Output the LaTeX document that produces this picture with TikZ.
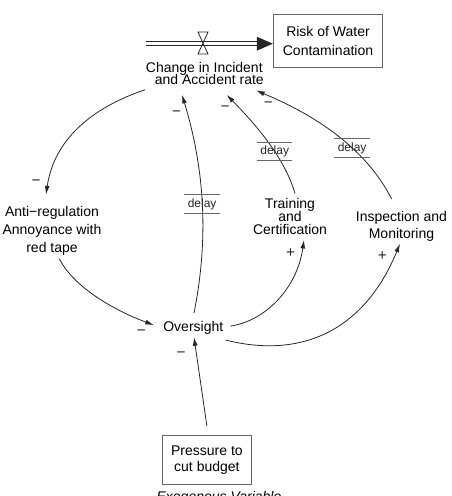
\documentclass[tikz,border=0pt]{standalone}
\usepackage{fontspec}
\setmainfont{Liberation Sans}
\usetikzlibrary{arrows.meta,calc}
\lineskiplimit=-5pt

\begin{document}
\begin{tikzpicture}[x=0.75pt,y=-0.75pt,>={Latex[length=6.5pt,width=3.6pt]},line width=0.6pt,
  txt/.style={inner sep=0,align=center,font=\fontsize{10.5}{#1}\selectfont},
  link/.style={->,black!85},
  sign/.style={anchor=base,inner sep=0,font=\fontsize{11.5}{12}\selectfont},
  delaybox/.style={minimum width=26pt,minimum height=13.3pt,inner sep=0,font=\fontsize{9}{10}\selectfont},
  pipe/.style={double,double distance=2.4pt,line width=0.6pt,black!85}]
  \useasboundingbox (0,0) rectangle (451,496);

  % Variables
  \node[txt=9.2] (change) at (204.3,73.8) {Change in Incident\\\hspace*{7.5pt}and Accident rate};
  \node[txt=13.7,draw=black!60,line width=0.8pt,minimum width=82pt,minimum height=39.2pt] (risk) at (328,41) {Risk of Water\\Contamination};
  \node[txt=13.5] (anti) at (52,231) {Anti−regulation\\Annoyance with\\red tape};
  \node[txt=9.75] (training) at (290,216) {Training\\and\\Certification};
  \node[txt=12.2] (inspection) at (401.5,226.3) {Inspection and\\Monitoring};
  \node[txt=12,anchor=base] (oversight) at (193.3,331.7) {Oversight};
  \node[txt=11.8,draw=black!60,line width=0.8pt,minimum width=66.2pt,minimum height=36.5pt] (pressure) at (206.9,460) {Pressure to\\cut budget};
  \node[txt=12,anchor=base,font=\fontsize{10.5}{12}\selectfont\itshape] (exo) at (219,501.7) {Exogenous Variable};

  % Flow into the stock
  \coordinate (src) at (146,43.7);
  \coordinate (valve) at (203,43.7);
  \draw[pipe] (src) -- ($(risk.west)+(-15,2.7)$);
  \fill[black!85] ($(risk.west)+(0,2.7)$) -- ++(-16,-7) -- ++(0,14) -- cycle;
  \draw[black!85,shift={(valve)}] (-5,-11.7) -- (5,-11.7) -- (-5,10.3) -- (5,10.3) -- cycle;

  % Causal links
  \draw[link] ($(change.south)+(-59.3,4.3)$) .. controls (91,108) and (54,140) .. ($(anti.north)+(-6,-11.5)$)
    node[sign,pos=1,shift={(-10,-8.7)}] {−};
  \draw[link] ($(anti.south)+(7.3,2.7)$) .. controls (75,290) and (121,313) .. ($(oversight.west)+(-9,-3)$)
    node[sign,pos=1,shift={(-12.6,10.3)}] {−};
  \draw[link] ($(oversight.north)+(0.7,-8.2)$) .. controls (210,233) and (203,164) .. ($(change.south)+(-22.3,9.3)$)
    node[delaybox,pos=.48] (d1) {delay}
    node[sign,pos=1,shift={(-5.3,21.3)}] {−};
  \draw[link] ($(training.north)+(5,-4)$) .. controls (283.8,155.6) and (254.2,123.2) .. ($(change.south)+(22.4,9.3)$)
    node[delaybox,pos=.39] (d2) {delay}
    node[sign,pos=1,shift={(-1.7,17)}] {−};
  \draw[link] ($(inspection.north)+(-9.8,-12.2)$) .. controls (364.7,145.9) and (311.2,113.4) .. ($(change.south)+(51.7,5)$)
    node[delaybox,pos=.37] (d3) {delay}
    node[sign,pos=1,shift={(12.3,16.9)}] {−};
  \draw[link] ($(oversight.east)+(6.7,-2)$) .. controls (265,321) and (297,288.8) .. ($(training.south)+(14,5.3)$)
    node[sign,pos=1,shift={(-13.3,17.6)}] {+};
  \draw[link] ($(oversight.east)+(2,12)$) .. controls (305.3,360) and (365.8,327) .. ($(inspection.south)+(-1.5,2.3)$)
    node[sign,pos=1,shift={(-17.7,17.3)}] {+};
  \draw[link] ($(pressure.north)+(0,-9)$) -- ($(oversight.south)+(0.7,2.1)$)
    node[sign,pos=1,shift={(-13,20.6)}] {−};

  % Delay marks
  \foreach \d in {d1,d2,d3}
    \draw[black!60,line width=0.75pt] (\d.north west) -- (\d.north east) (\d.south west) -- (\d.south east);
\end{tikzpicture}
\end{document}
